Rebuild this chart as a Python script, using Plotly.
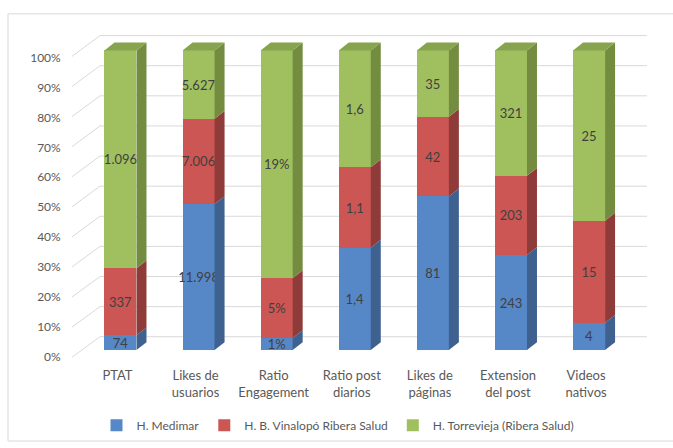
import plotly.graph_objects as go

# ---------------- data ----------------
categories = ["PTAT", "Likes de<br>usuarios", "Ratio<br>Engagement", "Ratio post<br>diarios",
              "Likes de<br>páginas", "Extension<br>del post", "Videos<br>nativos"]
series_names = ["H. Medimar", "H. B. Vinalopó Ribera Salud", "H. Torrevieja (Ribera Salud)"]
medimar = [74, 11998, 1, 1.4, 81, 243, 4]
vinalopo = [337, 7006, 5, 1.1, 42, 203, 15]
torrevieja = [1096, 5627, 19, 1.6, 35, 321, 25]
medimar_labels = ["74", "11.998", "1%", "1,4", "81", "243", "4"]
vinalopo_labels = ["337", "7.006", "5%", "1,1", "42", "203", "15"]
torrevieja_labels = ["1.096", "5.627", "19%", "1,6", "35", "321", "25"]
y_ticks = [0, 10, 20, 30, 40, 50, 60, 70, 80, 90, 100]
y_tick_labels = [f"{v}%" for v in y_ticks]

# ---------------- style ----------------
front_colors = ["#5687C6", "#CB5653", "#A0C05F"]
side_colors = ["#3E6190", "#8E3B39", "#738C40"]
top_color = "#86A44E"
grid_color = "#D9D9D9"
text_gray = "#595959"
FONT = "Lato"

bar_w = 0.41          # bar width (category units)
depth_dx = 0.128      # 3D depth offset, x (category units)
depth_dy = 2.64       # 3D depth offset, y (percent units)
wall_left, wall_right = -0.262, 6.741
lead_left = -0.621

def wall_y(v):
    return 4.45 + v * 1.005

def lead_y(v):
    return -2.4 + v * 1.004

series_vals = [medimar, vinalopo, torrevieja]
series_text = [medimar_labels, vinalopo_labels, torrevieja_labels]

fig = go.Figure()
for name, vals, txt, col in zip(series_names, series_vals, series_text, front_colors):
    fig.add_trace(go.Bar(
        x=categories, y=vals, name=name, text=txt, texttemplate="%{text}",
        textposition="inside", insidetextanchor="middle", textangle=0,
        constraintext="none", width=bar_w,
        textfont=dict(family=FONT, size=13, color="#404040"),
        marker=dict(color=col, line=dict(width=0)),
        hoverinfo="skip",
    ))

shapes = []
# back wall gridlines + perspective leader lines
for v in y_ticks:
    shapes.append(dict(type="line", xref="x", yref="y", layer="below",
                       x0=wall_left, x1=wall_right, y0=wall_y(v), y1=wall_y(v),
                       line=dict(color=grid_color, width=1)))
    shapes.append(dict(type="line", xref="x", yref="y", layer="below",
                       x0=lead_left, x1=wall_left, y0=lead_y(v), y1=wall_y(v),
                       line=dict(color=grid_color, width=1)))

# 3D side and top faces derived from the normalised data
n = len(categories)
for i in range(n):
    total = sum(s[i] for s in series_vals)
    cum = 0.0
    xr = i + bar_w / 2
    xl = i - bar_w / 2
    for s, sc in zip(series_vals, side_colors):
        p = s[i] / total * 100
        y0, y1 = cum, cum + p
        path = (f"M{xr},{y0} L{xr + depth_dx},{y0 + depth_dy} "
                f"L{xr + depth_dx},{y1 + depth_dy} L{xr},{y1} Z")
        shapes.append(dict(type="path", xref="x", yref="y", layer="above", path=path,
                           fillcolor=sc, line=dict(width=0)))
        cum = y1
    path = (f"M{xl},{cum} L{xr},{cum} L{xr + depth_dx},{cum + depth_dy} "
            f"L{xl + depth_dx},{cum + depth_dy} Z")
    shapes.append(dict(type="path", xref="x", yref="y", layer="above", path=path,
                       fillcolor=top_color, line=dict(width=0)))

# chart border
shapes.append(dict(type="rect", xref="paper", yref="paper", layer="below",
                   x0=8 / 673, x1=1.02, y0=2 / 448, y1=(448 - 14) / 448,
                   line=dict(color=grid_color, width=1), fillcolor="rgba(0,0,0,0)"))

fig.update_layout(
    width=673, height=448, autosize=False,
    margin=dict(l=0, r=0, t=0, b=0),
    barmode="stack", barnorm="percent",
    paper_bgcolor="white", plot_bgcolor="rgba(0,0,0,0)",
    font=dict(family=FONT, color=text_gray, size=12),
    shapes=shapes,
    showlegend=True,
    legend=dict(orientation="h", x=338 / 673, xanchor="center",
                y=(448 - 430) / 448, yanchor="middle",
                font=dict(family=FONT, size=12, color=text_gray),
                itemwidth=30, traceorder="normal"),
    xaxis=dict(domain=[69.7 / 673, 649.2 / 673], range=[-0.65, 6.77],
               showgrid=False, zeroline=False, showline=False, ticks="",
               tickfont=dict(family=FONT, size=13, color=text_gray),
               ticklabelstandoff=7, ticklabelshift=-3, fixedrange=True),
    yaxis=dict(domain=[(448 - 363.1) / 448, (448 - 32.8) / 448], range=[-3, 106],
               tickvals=y_ticks, ticktext=y_tick_labels,
               showgrid=False, zeroline=False, showline=False, ticks="",
               tickfont=dict(family=FONT, size=12, color=text_gray),
               ticklabelstandoff=8, ticklabelshift=7, fixedrange=True),
)

fig.write_html("out.html")
